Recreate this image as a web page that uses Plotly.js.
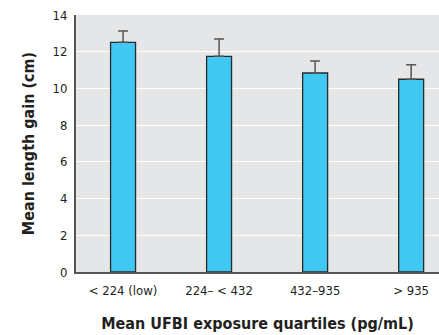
<!DOCTYPE html>
<html><head><meta charset="utf-8">
<script src="https://cdn.plot.ly/plotly-3.0.1.min.js"></script>
<style>html,body{margin:0;padding:0;background:#fff;}#chart{width:439px;height:335px;}</style>
</head><body><div id="chart"></div>
<script>
const categories = ["< 224 (low)", "224– < 432", "432–935", "> 935"];
const meanGain = [12.51, 11.75, 10.84, 10.50];
const errorPlus = [0.62, 0.94, 0.65, 0.79];
const yTicks = [0, 2, 4, 6, 8, 10, 12, 14];

const fontFam = '"DejaVu Sans Condensed", "Liberation Sans Narrow", "Liberation Sans", Arial, sans-serif';

Plotly.newPlot('chart', [{
  type: 'bar',
  x: [0, 1, 2, 3],
  y: meanGain,
  width: 0.26,
  marker: {color: '#40c8f2', line: {color: '#2a2a2a', width: 1.3}},
  error_y: {type: 'data', symmetric: false, array: errorPlus, arrayminus: [0,0,0,0], color: '#555', thickness: 1.5, width: 5},
  hoverinfo: 'none'
}], {
  width: 439, height: 335,
  margin: {l: 76, r: 0, t: 15, b: 63},
  paper_bgcolor: '#fff',
  plot_bgcolor: '#e5e6e8',
  showlegend: false,
  font: {family: fontFam, color: '#231f20', size: 13},
  xaxis: {
    range: [-0.49, 3.29],
    tickmode: 'array', tickvals: [0, 1, 2, 3], ticktext: categories,
    showgrid: false, zeroline: false,
    showline: true, linecolor: '#555', linewidth: 2,
    ticks: '', ticklen: 0, ticklabelstandoff: 5,
    tickfont: {family: fontFam, size: 13, color: '#231f20'},
    title: {text: '<b>Mean UFBI exposure quartiles (pg/mL)</b>', font: {family: fontFam, size: 16, color: '#231f20'}, standoff: 21}
  },
  yaxis: {
    range: [0, 14],
    tickmode: 'array', tickvals: yTicks,
    showgrid: true, gridcolor: '#ffffff', gridwidth: 1.2,
    zeroline: false,
    showline: true, linecolor: '#555', linewidth: 2,
    ticks: '', ticklen: 0, ticklabelstandoff: 4,
    tickfont: {family: fontFam, size: 13, color: '#231f20'},
    title: {text: '<b>Mean length gain (cm)</b>', font: {family: fontFam, size: 16, color: '#231f20'}, standoff: 14}
  }
}, {displayModeBar: false, staticPlot: true});
</script></body></html>
